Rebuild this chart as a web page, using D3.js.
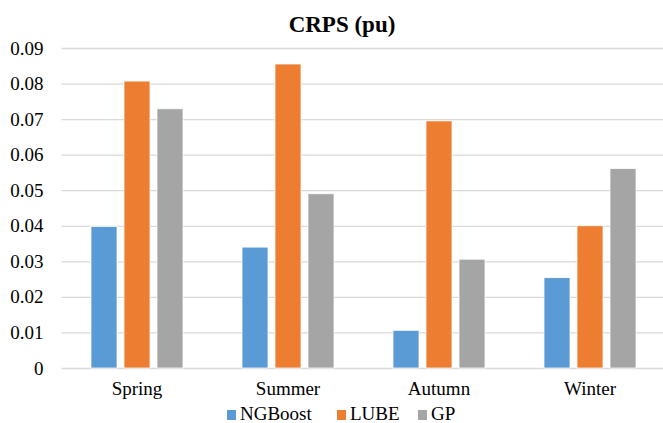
<!DOCTYPE html>
<html>
<head>
<meta charset="utf-8">
<script src="https://cdn.jsdelivr.net/npm/d3@7"></script>
<style>
  body { margin: 0; background: #fff; }
  svg text { font-family: 'Liberation Serif', 'Times New Roman', Times, serif !important; }
</style>
</head>
<body>
<svg id="chart" width="663" height="423"></svg>
<script>
// data
const seasons = ["Spring", "Summer", "Autumn", "Winter"];
const series = ["NGBoost", "LUBE", "GP"];
const ngboost = [0.0398, 0.0340, 0.0106, 0.0254];
const lube = [0.0807, 0.0855, 0.0695, 0.0400];
const gp = [0.0729, 0.0490, 0.0306, 0.0561];
const yTicks = [0, 0.01, 0.02, 0.03, 0.04, 0.05, 0.06, 0.07, 0.08, 0.09];
const colors = ["#5B9BD5", "#ED7D31", "#A5A5A5"];

const WIDTH = 663;
const HEIGHT = 423;
const LEFT = 61.5;
const RIGHT = 665.5;
const TOP = 48;
const BOTTOM = 368;
const FONT = "'Liberation Serif', 'Times New Roman', Times, serif";

const svg = d3.select("#chart");
svg.append("rect").attr("width", WIDTH).attr("height", HEIGHT).attr("fill", "#fff");

const xScale = d3.scaleBand(seasons, [LEFT, RIGHT]);
const xInner = d3.scaleBand(series, [-46, 46]).paddingInner(0.212);
const yScale = d3.scaleLinear([0, 0.09], [BOTTOM, TOP]);
const color = d3.scaleOrdinal(series, colors);

// gridlines + y labels
const yAxis = d3.axisLeft(yScale)
    .tickValues(yTicks)
    .tickFormat(d => d === 0 ? "0" : d3.format(".2f")(d))
    .tickSize(-(WIDTH - LEFT))
    .tickPadding(18);

const gy = svg.append("g")
    .attr("transform", `translate(${LEFT},0)`)
    .call(yAxis)
    .attr("font-family", null);
gy.select(".domain").remove();
gy.selectAll(".tick line").attr("stroke", "#d9d9d9").attr("stroke-width", 1.3);
gy.selectAll(".tick text")
    .attr("fill", "#000")
    .style("font-family", FONT)
    .style("font-size", "19px");

// bars
const rows = seasons.map((s, i) => ({season: s, values: [ngboost[i], lube[i], gp[i]]}));

const groups = svg.selectAll("g.season")
    .data(rows)
    .enter()
    .append("g")
    .attr("class", "season")
    .attr("transform", d => `translate(${xScale(d.season) + xScale.bandwidth() / 2},0)`);

groups.selectAll("rect")
    .data(d => d.values.map((v, j) => ({key: series[j], value: v})))
    .enter()
    .append("rect")
    .attr("x", d => xInner(d.key))
    .attr("width", xInner.bandwidth())
    .attr("y", d => yScale(d.value))
    .attr("height", d => yScale(0) - yScale(d.value))
    .attr("fill", d => color(d.key))
    .attr("stroke", "#fff")
    .attr("stroke-width", 0.75);

// category labels
const xAxis = d3.axisBottom(xScale).tickSize(0).tickPadding(14);
const gx = svg.append("g")
    .attr("transform", `translate(0,${BOTTOM})`)
    .call(xAxis)
    .attr("font-family", null);
gx.select(".domain").remove();
gx.selectAll(".tick text")
    .attr("fill", "#000")
    .style("font-family", FONT)
    .style("font-size", "19px");

// title
svg.append("text")
    .attr("x", 342)
    .attr("y", 32)
    .attr("text-anchor", "middle")
    .style("font-family", FONT)
    .style("font-size", "23px")
    .style("font-weight", "bold")
    .text("CRPS (pu)");

// legend
const legendX = [227, 337, 418];
const legend = svg.selectAll("g.legend")
    .data(series)
    .enter()
    .append("g")
    .attr("class", "legend")
    .attr("transform", (d, i) => `translate(${legendX[i]},0)`);

legend.append("rect")
    .attr("x", 0)
    .attr("y", 410)
    .attr("width", 9)
    .attr("height", 10)
    .attr("fill", d => color(d));

legend.append("text")
    .attr("x", 13)
    .attr("y", 420)
    .style("font-family", FONT)
    .style("font-size", "19px")
    .text(d => d);
</script>
</body>
</html>
